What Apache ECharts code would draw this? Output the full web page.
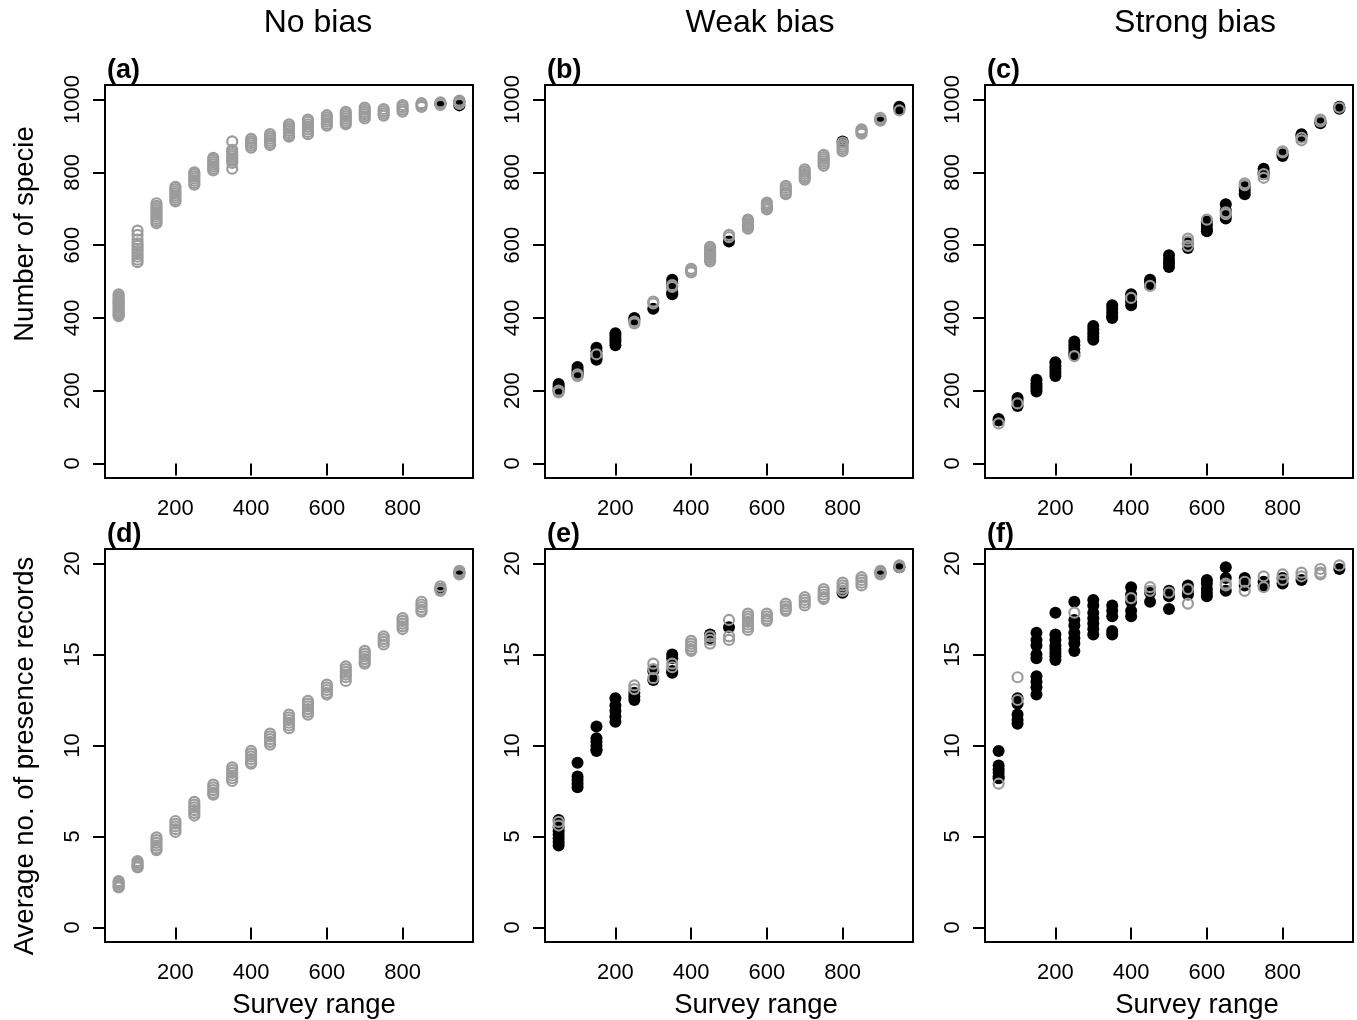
<!DOCTYPE html>
<html>
<head>
<meta charset="utf-8">
<script src="https://cdn.jsdelivr.net/npm/echarts@6/dist/echarts.min.js"></script>
<style>
html,body{margin:0;padding:0;background:#fff;}
#c{width:1357px;height:1020px;}
</style>
</head>
<body>
<div id="c"></div>
<script>
// Survey range categories (x positions)
const surveyRange = [50,100,150,200,250,300,350,400,450,500,550,600,650,700,750,800,850,900,950];

// Tick labels
const xTicks = [200,400,600,800];
const yTicksSpecies = [0,200,400,600,800,1000];
const yTicksRecords = [0,5,10,15,20];

// Column titles, panel labels, axis titles
const columnTitles = ['No bias','Weak bias','Strong bias'];
const panelLabels = ['(a)','(b)','(c)','(d)','(e)','(f)'];
const yTitles = ['Number of specie','Average no. of presence records'];
const xTitle = 'Survey range';

// Panel (a) No bias - number of species
const aGray = [[465,460,455,450,446,442,438,433,428,423,418,413,408,405],[640,628,615,605,598,590,583,575,568,560,553],[715,708,702,696,690,684,678,672,666,660],[760,754,748,742,736,730,724,720],[800,795,789,783,777,771,766],[840,834,828,822,816,810,805],[885,862,856,850,844,838,832,826,810],[892,886,880,874,868],[905,899,893,887,881,875],[932,926,920,914,908,902,898],[945,939,932,925,918,911,905],[957,951,945,939,933,928],[966,960,954,948,942,936,932],[978,972,966,960,954,948],[974,968,962,956],[985,979,973,967],[990,985,980],[992,988,985],[997,992,988]];
const aBlack = [[],[],[],[],[],[],[],[],[],[],[],[],[],[],[],[],[],[990],[995,984]];

// Panel (b) Weak bias - number of species
const bGray = [[200,195],[245,240],[300],[],[390,385],[445,440],[485,490],[535,530,525],[595,590,585,580,575,570,565,560,555],[628,622],[670,665,660,655,650,645],[717,712,707,702,698],[763,757,751,745,740],[808,802,796,790,785,780],[848,842,836,830,824,818],[882,876,870,864,858],[918,914,910,906],[950,946,942],[970]];
const bBlack = [[218,212,205,200],[265,258,252,248,242],[318,308,298,290,285],[358,350,342,335,325],[400,395],[425],[505,495,485,470,465],[],[575],[610],[],[],[],[],[],[885],[],[945],[980,975]];

// Panel (c) Strong bias - number of species
const cGray = [[110],[165],[],[],[295],[],[],[455],[488],[],[618,610,598],[670],[690,685],[770,765],[795,785],[858,855],[895,888],[945,940],[978]];
const cBlack = [[122,118],[180,172,158],[230,220,212,205,198],[278,268,260,250,240],[335,325,315,305,298],[378,368,358,348,340],[435,425,415,405,400],[465,455,445,435],[505,498,490],[572,560,550,540],[605,592],[665,655,645,638],[712,695,680,673],[760,750,740],[810,800,795],[850,845],[905,900],[938,935],[980,975]];

// Panel (d) No bias - average presence records
const dGray = [[2.55,2.45,2.35,2.25,2.2],[3.65,3.55,3.45,3.35,3.3],[4.95,4.8,4.65,4.5,4.35,4.25],[5.85,5.7,5.55,5.4,5.25],[6.9,6.75,6.6,6.45,6.3,6.15],[7.85,7.7,7.55,7.4,7.3],[8.8,8.65,8.5,8.35,8.2,8.05],[9.7,9.55,9.4,9.25,9.1,9.0],[10.65,10.5,10.35,10.2,10.05],[11.7,11.55,11.4,11.25,11.1,10.95],[12.45,12.3,12.15,12.0,11.85,11.7],[13.35,13.2,13.05,12.9,12.8],[14.35,14.2,14.05,13.9,13.75,13.55],[15.2,15.05,14.9,14.75,14.6,14.5],[16.0,15.85,15.7,15.55],[17.0,16.85,16.7,16.55,16.4],[17.9,17.75,17.6,17.45,17.35],[18.75,18.6,18.5],[19.6,19.5,19.4]];
const dBlack = [[],[],[],[],[],[],[],[],[],[],[],[],[],[],[],[],[],[18.6],[19.5]];

// Panel (e) Weak bias - average presence records
const eGray = [[5.8,5.6],[],[],[],[13.3,13.1],[14.5,14.2,13.7],[14.5,14.3],[15.75,15.6,15.45,15.3,15.2],[16.0,15.8,15.6],[16.9,16.0,15.8],[17.25,17.1,16.95,16.8,16.65,16.5,16.35],[17.25,17.1,16.95,16.85],[17.8,17.65,17.5,17.4],[18.15,18.0,17.85,17.7],[18.6,18.45,18.3,18.15,18.05],[18.95,18.8,18.65,18.5],[19.25,19.1,18.95,18.8],[19.6,19.5,19.4],[19.9,19.8]];
const eBlack = [[5.9,5.5,5.3,5.1,4.9,4.7,4.5],[9.05,8.3,8.1,7.9,7.7],[11.05,10.4,10.2,10.0,9.8,9.7],[12.6,12.2,11.9,11.6,11.3],[12.9,12.7,12.5],[14.1,13.6],[15.0,14.8,14.1,14.0],[],[16.1,15.9],[16.5],[],[],[],[],[],[18.4],[],[19.5],[19.8]];

// Panel (f) Strong bias - average presence records
const fGray = [[7.9],[13.75,12.5],[],[],[17.3],[],[],[18.1],[18.7,18.5],[18.4],[18.6,17.8],[],[18.8,18.9],[19.0,18.5],[19.3,18.7],[19.4,19.1],[19.5,19.3],[19.7,19.5,19.4],[19.9]];
const fBlack = [[9.7,8.9,8.7,8.5,8.3,8.2],[12.6,12.3,11.7,11.4,11.2],[16.2,15.8,15.5,15.0,14.8,13.8,13.5,13.2,12.8],[17.3,16.1,15.8,15.5,15.3,15.1,14.9,14.7],[17.9,16.9,16.6,16.2,15.9,15.6,15.2],[18.0,17.7,17.3,17.0,16.7,16.4,16.1],[17.7,17.4,17.1,16.3,16.1],[18.7,18.3,17.9,17.4,17.1],[18.4,17.9],[18.5,18.2,17.5],[18.8,18.5,18.3],[19.1,18.9,18.6,18.4,18.2],[19.8,19.2,18.5],[19.2,18.8],[19.0,18.8],[19.2,18.9],[19.1],[],[19.7]];

const panels = [
  {gray:aGray, black:aBlack, row:0},
  {gray:bGray, black:bBlack, row:0},
  {gray:cGray, black:cBlack, row:0},
  {gray:dGray, black:dBlack, row:1},
  {gray:eGray, black:eBlack, row:1},
  {gray:fGray, black:fBlack, row:1}
];

const FONT = '"Liberation Sans", Arial, Helvetica, sans-serif';
const gridLeft = [105, 545, 985];
const gridTop = [85, 549];
const GW = 368, GH = 393;

function toPairs(groups){
  const out = [];
  groups.forEach((vals, i) => vals.forEach(v => out.push([surveyRange[i], v])));
  return out;
}
const plain = v => String(v);

const grid = [], xAxis = [], yAxis = [], series = [];
panels.forEach((p, i) => {
  const col = i % 3, row = p.row;
  grid.push({left: gridLeft[col], top: gridTop[row], width: GW, height: GH,
    show: true, borderColor: '#000', borderWidth: 2, backgroundColor: 'transparent', containLabel: false});
  xAxis.push({type: 'value', gridIndex: i, min: 14, max: 986,
    splitLine: {show: false}, axisLine: {show: false},
    axisTick: {show: true, length: 12, lineStyle: {color: '#000', width: 2}, customValues: xTicks},
    axisLabel: {show: true, customValues: xTicks, formatter: plain, fontFamily: FONT, fontSize: 22, color: '#000', margin: 20}
  });
  const ticks = row === 0 ? yTicksSpecies : yTicksRecords;
  yAxis.push({type: 'value', gridIndex: i,
    min: row === 0 ? -40 : -0.8, max: row === 0 ? 1040 : 20.8,
    splitLine: {show: false}, axisLine: {show: false},
    axisTick: {show: true, length: 12, lineStyle: {color: '#000', width: 2}, customValues: ticks},
    axisLabel: {show: true, customValues: ticks, formatter: plain, rotate: 90, fontFamily: FONT, fontSize: 22, color: '#000', margin: 21}
  });
  series.push({type: 'scatter', xAxisIndex: i, yAxisIndex: i, data: toPairs(p.black),
    symbol: 'circle', symbolSize: 12, itemStyle: {color: '#000', opacity: 1}, silent: true, animation: false});
  series.push({type: 'scatter', xAxisIndex: i, yAxisIndex: i, data: toPairs(p.gray),
    symbol: 'circle', symbolSize: 10,
    itemStyle: {color: 'rgba(0,0,0,0)', borderColor: '#9b9b9b', borderWidth: 2.2, opacity: 1}, silent: true, animation: false});
});

const graphic = [];
const titleX = [318, 760, 1195];
columnTitles.forEach((t, i) => graphic.push({type: 'text', x: titleX[i], y: 23,
  style: {text: t, font: '32px ' + FONT, fill: '#000', align: 'center', verticalAlign: 'middle'}}));
panelLabels.forEach((t, i) => {
  const col = i % 3, row = Math.floor(i / 3);
  graphic.push({type: 'text', x: gridLeft[col] + 2, y: gridTop[row] - 14,
    style: {text: t, font: 'bold 27px ' + FONT, fill: '#000', align: 'left', verticalAlign: 'middle'}});
});
const yTitleY = [234, 756];
yTitles.forEach((t, i) => graphic.push({type: 'text', x: 25, y: yTitleY[i], rotation: Math.PI / 2,
  style: {text: t, font: '27.5px ' + FONT, fill: '#000', align: 'center', verticalAlign: 'middle'}}));
const xTitleX = [314, 756, 1197];
xTitleX.forEach(x => graphic.push({type: 'text', x: x, y: 1005,
  style: {text: xTitle, font: '27.5px ' + FONT, fill: '#000', align: 'center', verticalAlign: 'middle'}}));

const chart = echarts.init(document.getElementById('c'), null, {renderer: 'canvas'});
chart.setOption({
  animation: false,
  backgroundColor: '#fff',
  grid: grid, xAxis: xAxis, yAxis: yAxis, series: series, graphic: graphic
});
</script>
</body>
</html>
